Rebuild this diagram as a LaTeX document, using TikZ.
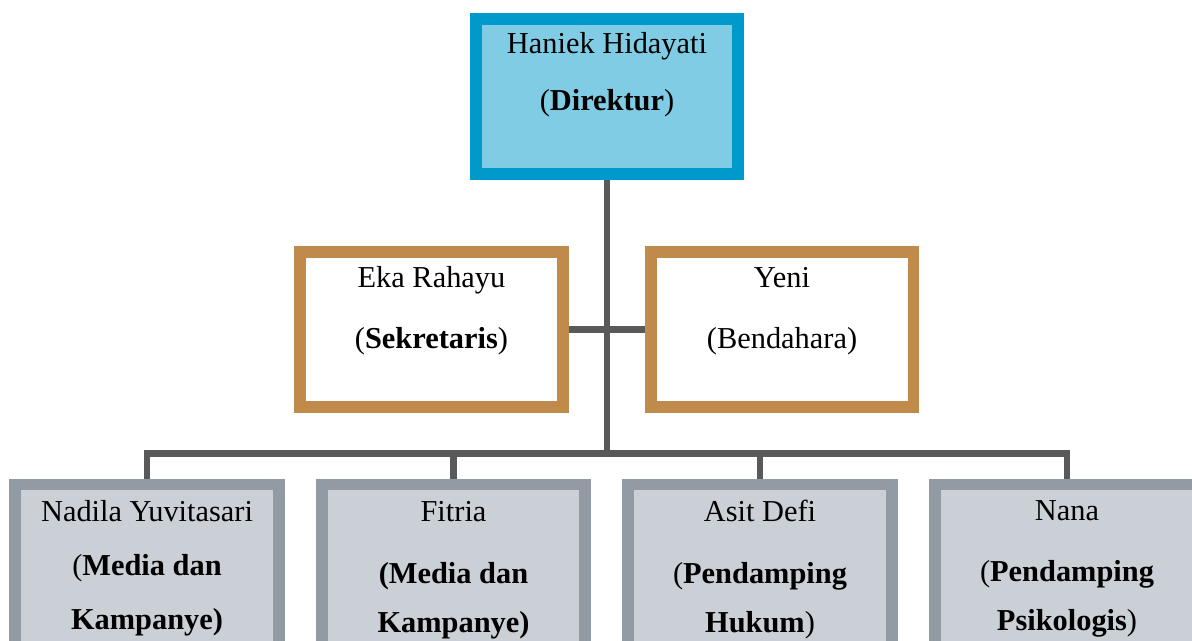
\documentclass[tikz,border=0pt]{standalone}
\usepackage{fontspec}
\setmainfont{Liberation Serif}
\usetikzlibrary{backgrounds}

\definecolor{dirfill}{RGB}{127,204,228}
\definecolor{dirline}{RGB}{0,153,204}
\definecolor{tanline}{RGB}{191,138,74}
\definecolor{staffill}{RGB}{203,208,214}
\definecolor{stafline}{RGB}{146,155,163}
\definecolor{linkgray}{RGB}{89,89,89}

\newcommand{\orgtext}[4]{\parbox[c][#2][t]{#1}{\centering\rule{0pt}{#3}#4}}

\tikzset{
  orgbox/.style={rectangle, inner sep=0pt, outer sep=0pt, line width=6.8pt,
    font=\fontsize{17.3}{26.4}\selectfont},
  dirbox/.style={orgbox, draw=dirline, fill=dirfill},
  tanbox/.style={orgbox, draw=tanline, fill=white},
  stafbox/.style={orgbox, draw=stafline, fill=staffill},
  link/.style={draw=linkgray, line width=3.8pt}
}

\begin{document}
\begin{tikzpicture}[x=0.02cm, y=-0.02cm]
\useasboundingbox (0,0) rectangle (1192,641);
\node[dirbox] (dir) at (607,96.5) {\orgtext{5.24cm}{3.1cm}{19.6pt}{Haniek Hidayati\\[5.8pt] (\textbf{Direktur})}};
\node[tanbox] (sek) at (431.5,329.5) {\orgtext{5.26cm}{3.1cm}{20.2pt}{Eka Rahayu\\[8.2pt] (\textbf{Sekretaris})}};
\node[tanbox] (bend) at (782,329.5) {\orgtext{5.26cm}{3.1cm}{20.2pt}{Yeni\\[8.2pt] (Bendahara)}};
\node[stafbox] (nadila) at (147,569.5) {\orgtext{5.27cm}{3.4cm}{21.1pt}{Nadila Yuvitasari\\[4.2pt] (\textbf{Media dan}\\[4.4pt] \textbf{Kampanye)}}};
\node[stafbox] (fitria) at (453.5,569.5) {\orgtext{5.27cm}{3.4cm}{21.1pt}{Fitria\\[8.6pt] \textbf{(Media dan}\\[1.6pt] \textbf{Kampanye)}}};
\node[stafbox] (asit) at (760,569.5) {\orgtext{5.27cm}{3.4cm}{21.1pt}{Asit Defi\\[8.6pt] (\textbf{Pendamping}\\[1.6pt] \textbf{Hukum})}};
\node[stafbox] (nana) at (1067,569.5) {\orgtext{5.27cm}{3.4cm}{20.3pt}{Nana\\[8.6pt] (\textbf{Pendamping}\\[1.6pt] \textbf{Psikologis})}};
\coordinate (bar) at (607,453.5);
\begin{scope}[on background layer]
\fill[white] (0,0) rectangle (1192,641);
\draw[link] (dir.south) -- (bar);
\draw[link] (sek.east) -- (bend.west);
\draw[link] (nadila.north) |- (bar) -| (nana.north);
\foreach \staf in {fitria, asit}
  \draw[link] (\staf.north) -- (\staf.north |- bar);
\end{scope}
\end{tikzpicture}
\end{document}
